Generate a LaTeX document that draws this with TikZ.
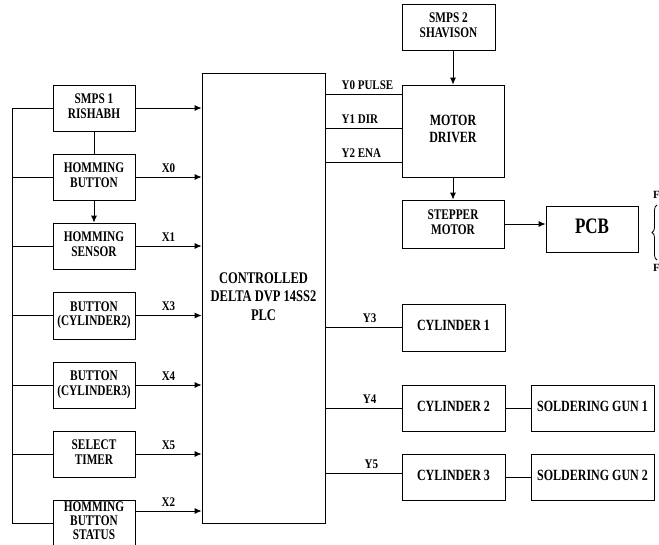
\documentclass[tikz,border=0pt]{standalone}
\usepackage{fontspec}
\setmainfont{Liberation Serif}
\usepackage{graphicx}
\usetikzlibrary{arrows.meta,decorations.pathreplacing}
\newcommand\vs[2][1.3]{\scalebox{1}[#1]{\begin{tabular}{@{}c@{}}#2\end{tabular}}}
\begin{document}
\begin{tikzpicture}[x=1pt,y=-1pt,
  box/.style={draw, line width=0.8pt, inner sep=0pt, align=center},
  fl/.style={font=\bfseries\fontsize{11.3}{11.5}\selectfont},
  fr/.style={font=\bfseries\fontsize{12}{13}\selectfont},
  fp/.style={font=\bfseries\fontsize{12.5}{14.2}\selectfont},
  lbl/.style={font=\bfseries\fontsize{11}{11}\selectfont, inner sep=0.5pt},
  conn/.style={line width=0.8pt},
  arr/.style={line width=0.8pt, -{Latex[length=7pt,width=6pt]}}]
\useasboundingbox (0,0) rectangle (659,544);
% left boxes
\node[box,fl,minimum width=82pt,minimum height=46pt] (smps1) at (94,108) {\vs{SMPS 1\\RISHABH}};
\node[box,fl,minimum width=82pt,minimum height=46pt] (hb) at (94,177) {\vs{HOMMING\\BUTTON}};
\node[box,fl,minimum width=82pt,minimum height=46pt] (hs) at (94,246) {\vs{HOMMING\\SENSOR}};
\node[box,fl,minimum width=82pt,minimum height=47pt] (bc2) at (94,315.5) {\vs{BUTTON\\(CYLINDER2)}};
\node[box,fl,minimum width=82pt,minimum height=46pt] (bc3) at (94,385) {\vs{BUTTON\\(CYLINDER3)}};
\node[box,fl,minimum width=82pt,minimum height=46pt] (st) at (94,454) {\vs{SELECT\\TIMER}};
\node[box,font=\bfseries\fontsize{11.3}{10.8}\selectfont,minimum width=82pt,minimum height=46pt] (hbs) at (94,523) {\vs{HOMMING\\BUTTON\\STATUS}};
% PLC
\node[box,fp,minimum width=123pt,minimum height=450pt] (plc) at (263.5,298) {\vs{CONTROLLED\\DELTA DVP 14SS2\\PLC}};
% right boxes
\node[box,fl,minimum width=93pt,minimum height=46pt] (smps2) at (448.5,27) {\vs{SMPS 2\\SHAVISON}};
\node[box,fr,minimum width=102pt,minimum height=92pt] (md) at (453,131) {\vs{MOTOR\\DRIVER}};
\node[box,fl,minimum width=102pt,minimum height=48pt] (sm) at (453,224) {\vs{STEPPER\\MOTOR}};
\node[box,font=\bfseries\fontsize{17}{17}\selectfont,minimum width=92pt,minimum height=46pt] (pcb) at (592,229) {\vs{PCB}};
\node[box,fr,minimum width=103pt,minimum height=47pt] (c1) at (453.5,327.5) {\vs{CYLINDER 1}};
\node[box,fr,minimum width=103pt,minimum height=46pt] (c2) at (453.5,408) {\vs{CYLINDER 2}};
\node[box,fr,minimum width=103pt,minimum height=46pt] (c3) at (453.5,477) {\vs{CYLINDER 3}};
\node[box,fr,minimum width=123pt,minimum height=46pt] (g1) at (592.5,408) {\vs{SOLDERING GUN 1}};
\node[box,fr,minimum width=123pt,minimum height=46pt] (g2) at (592.5,477) {\vs{SOLDERING GUN 2}};
% bus
\coordinate (bt) at (12,108);
\coordinate (bb) at (12,523);
\draw[conn] (smps1.west) -- (bt) -- (bb) -- (hbs.west);
\foreach \n in {hb,hs,bc2,bc3,st} \draw[conn] (\n.west) -- (\n.west -| bt);
% inputs
\draw[arr] (smps1.east) -- (smps1.east -| plc.west);
\draw[arr] (hb.east) -- node[lbl,above]{\vs[1.2]{X0}} (hb.east -| plc.west);
\draw[arr] (hs.east) -- node[lbl,above]{\vs[1.2]{X1}} (hs.east -| plc.west);
\draw[arr] (bc2.east) -- node[lbl,above]{\vs[1.2]{X3}} (bc2.east -| plc.west);
\draw[arr] (bc3.east) -- node[lbl,above]{\vs[1.2]{X4}} (bc3.east -| plc.west);
\draw[arr] (st.east) -- node[lbl,above]{\vs[1.2]{X5}} (st.east -| plc.west);
\coordinate (x2) at (135,511);
\draw[arr] (x2) -- node[lbl,above]{\vs[1.2]{X2}} (x2 -| plc.west);
\draw[conn] (smps1.south) -- (hb.north);
\draw[arr] (hb.south) -- (hs.north);
% outputs
\coordinate (m0) at (402,94);
\coordinate (m1) at (402,128);
\coordinate (m2) at (402,162);
\draw[conn] (m0 -| plc.east) -- node[lbl,pos=0.2,anchor=south west]{\vs[1.2]{Y0 PULSE}} (m0);
\draw[conn] (m1 -| plc.east) -- node[lbl,pos=0.2,anchor=south west]{\vs[1.2]{Y1 DIR}} (m1);
\draw[conn] (m2 -| plc.east) -- node[lbl,pos=0.2,anchor=south west]{\vs[1.2]{Y2 ENA}} (m2);
\draw[conn] (c1.west -| plc.east) -- node[lbl,pos=0.58,above]{\vs[1.2]{Y3}} (c1.west);
\draw[conn] (c2.west -| plc.east) -- node[lbl,pos=0.58,above]{\vs[1.2]{Y4}} (c2.west);
\coordinate (c3in) at (402,473);
\draw[conn] (c3in -| plc.east) -- node[lbl,pos=0.6,above]{\vs[1.2]{Y5}} (c3in);
\draw[conn] (c2.east) -- (g1.west);
\draw[conn] (c3.east) -- (g2.west);
\draw[arr] (md.north |- smps2.south) -- (md.north);
\draw[arr] (md.south) -- (sm.north);
\draw[arr] (sm.east) -- (sm.east -| pcb.west);
% brace at right edge
\draw[line width=0.8pt,decorate,decoration={brace,amplitude=5pt}] (657,260) -- (657,205);
\node[font=\bfseries\fontsize{11}{11}\selectfont,anchor=west,inner sep=0pt] (f1) at (653,195) {F};
\node[font=\bfseries\fontsize{11}{11}\selectfont,anchor=west,inner sep=0pt] (f2) at (653,268) {F};
\end{tikzpicture}
\end{document}
